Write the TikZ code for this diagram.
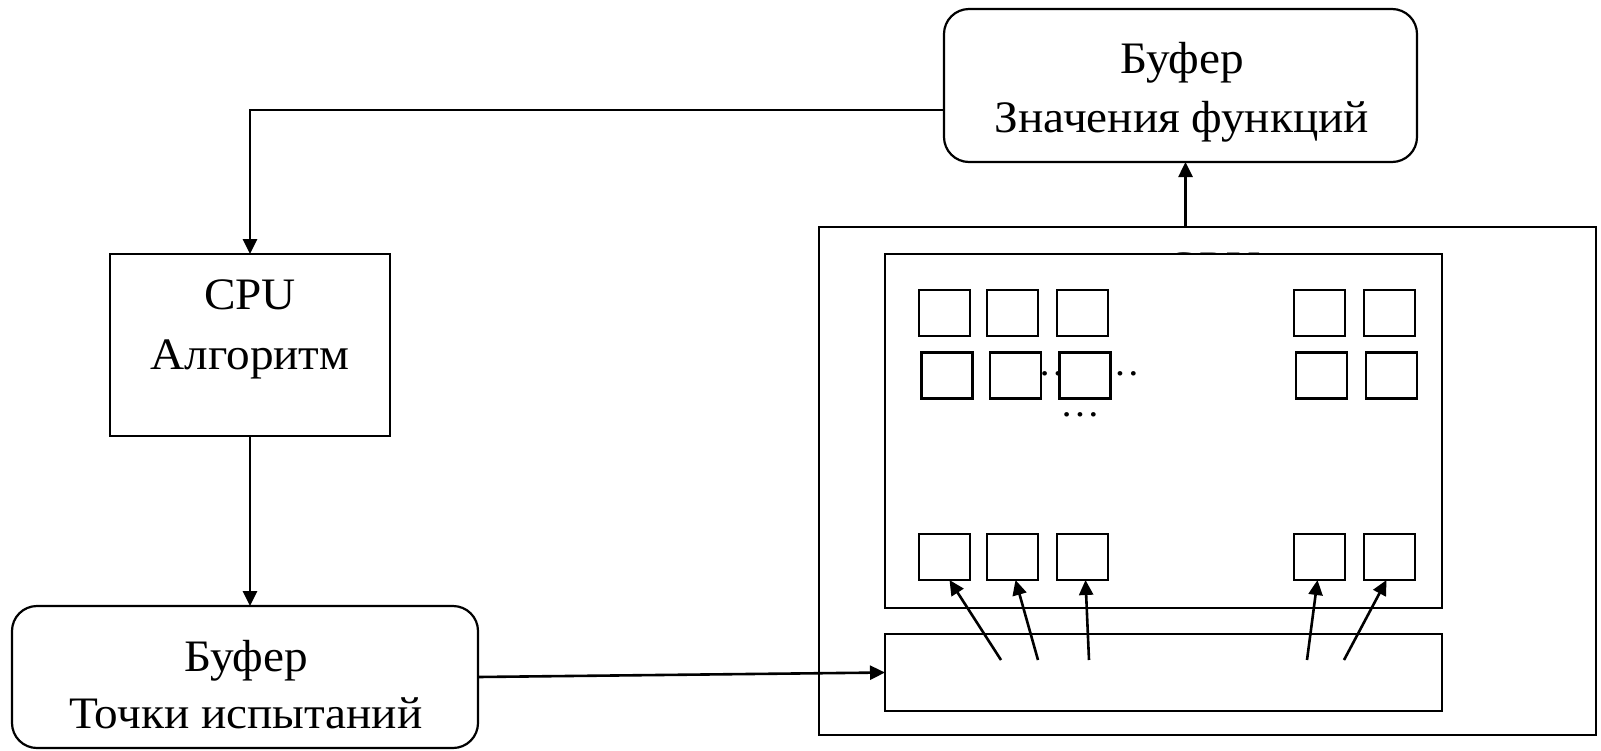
\documentclass[tikz,border=0pt]{standalone}
\usepackage{fontspec}
\setmainfont{Liberation Serif}[FakeStretch=1.05]
\usetikzlibrary{arrows.meta,calc}
\begin{document}
\begin{tikzpicture}[x=1pt,y=-1pt,
  every node/.style={inner sep=0pt,outer sep=0pt},
  lbl/.style={font=\fontsize{45}{56}\selectfont,anchor=base},
  rbox/.style={draw,line width=2.2pt,rounded corners=25pt},
  sbox/.style={draw,line width=2.2pt},
  frame/.style={draw,line width=2.2pt},
  cell/.style={draw,fill=white,line width=2.2pt,minimum width=51pt,minimum height=46pt},
  arr/.style={line width=2.6pt,-{Triangle[length=15pt,width=14pt]}},
  dotsl/.style={font=\fontsize{38}{38}\selectfont}
]
\useasboundingbox (0,0) rectangle (1601,750);

% boxes
\node[rbox,minimum width=473pt,minimum height=153pt] (topbuf) at (1180.5,85.5) {};
\node[lbl] (topbufA) at (1182,73) {Буфер};
\node[lbl] (topbufB) at (1182,132) {Значения функций};

\node[sbox,minimum width=280pt,minimum height=182pt] (cpu) at (250,345) {};
\node[lbl] (cpuA) at (250,309) {CPU};
\node[lbl] (cpuB) at (250,369) {Алгоритм};

\node[rbox,minimum width=466pt,minimum height=142pt] (botbuf) at (245,677) {};
\node[lbl] (botbufA) at (246,671) {Буфер};
\node[lbl] (botbufB) at (246,728) {Точки испытаний};

\node[frame,minimum width=777pt,minimum height=508pt] (gpu) at (1207.5,481) {};
\node[lbl] (gpulbl) at (1213,282) {GPU};
\node[frame,fill=white,minimum width=557pt,minimum height=354pt] (inner) at (1163.5,431) {};
\node[frame,minimum width=557pt,minimum height=77pt] (lower) at (1163.5,672.5) {};

% dots
\node[dotsl] (d1) at (1058,374) {…};
\node[dotsl] (d2) at (1120,374) {…};
\node[dotsl] (d3) at (1080,415) {…};

% cells
\node[cell] (s11) at (944.5,313) {};
\node[cell] (s12) at (1012.5,313) {};
\node[cell] (s13) at (1082.5,313) {};
\node[cell] (s14) at (1319.5,313) {};
\node[cell] (s15) at (1389.5,313) {};
\node[cell] (s21) at (947,375.5) {};
\node[cell] (s22) at (1015.5,375.5) {};
\node[cell] (s23) at (1085,375.5) {};
\node[cell] (s24) at (1321.5,375.5) {};
\node[cell] (s25) at (1391.5,375.5) {};
\node[cell] (s31) at (944.5,557) {};
\node[cell] (s32) at (1012.5,557) {};
\node[cell] (s33) at (1082.5,557) {};
\node[cell] (s34) at (1319.5,557) {};
\node[cell] (s35) at (1389.5,557) {};

% connectors
\draw[arr] (topbuf.west) ++(0,24.5) -| (cpu.north);
\draw[arr] (cpu.south) -- (cpu.south |- botbuf.north);
\draw[arr] (botbuf.east) -- (lower.west);
\draw[arr] ([xshift=5pt]topbuf.south |- gpu.north) -- ([xshift=5pt]topbuf.south);

\coordinate (a1) at (1001,660);
\coordinate (a2) at (1038,660);
\coordinate (a3) at (1089,660);
\coordinate (a4) at (1307,660);
\coordinate (a5) at (1344,660);
\draw[arr] (a1) -- ([xshift=5pt]s31.south);
\draw[arr] (a2) -- ([xshift=3pt]s32.south);
\draw[arr] (a3) -- ([xshift=3pt]s33.south);
\draw[arr] (a4) -- ([xshift=-2pt]s34.south);
\draw[arr] (a5) -- ([xshift=-3pt]s35.south);
\end{tikzpicture}
\end{document}
